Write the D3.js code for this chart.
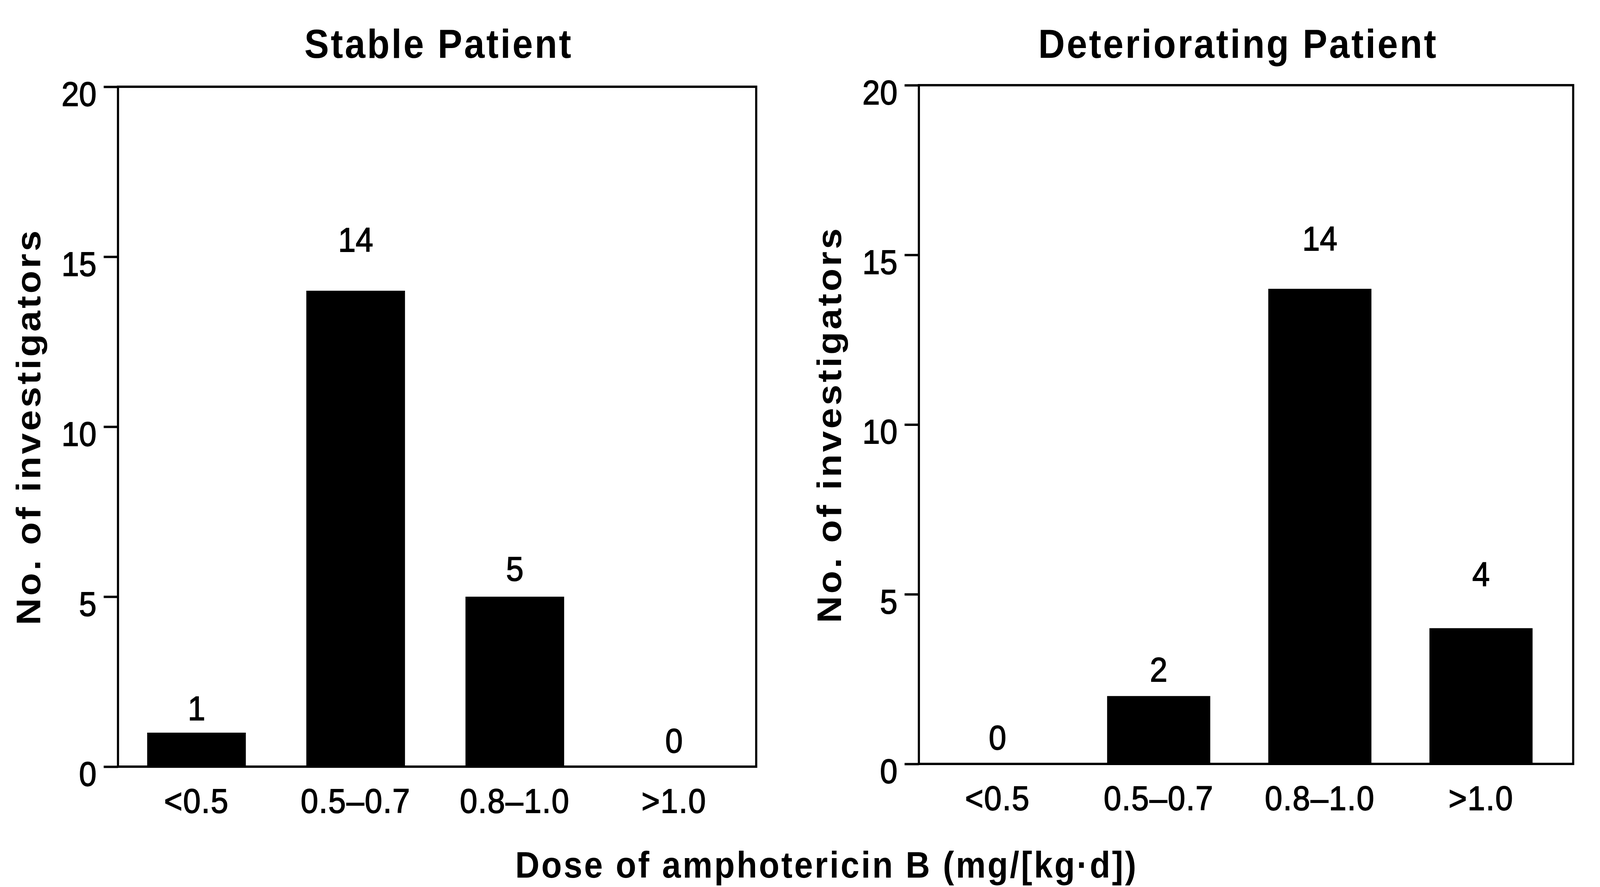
<!DOCTYPE html>
<html>
<head>
<meta charset="utf-8">
<script src="https://cdn.jsdelivr.net/npm/d3@7"></script>
<style>
  html, body { margin: 0; padding: 0; background: #fff; overflow: hidden; }
  #chart svg { display: block; }
  text { font-family: "Liberation Sans", Arial, sans-serif; fill: #000; }
</style>
</head>
<body>
<div id="chart"></div>
<script>
// data
const categories = ["<0.5", "0.5\u20130.7", "0.8\u20131.0", ">1.0"]
const stableCounts = [1, 14, 5, 0]
const deterioratingCounts = [0, 2, 14, 4]
const yTicks = [0, 5, 10, 15, 20]
const panelTitles = ["Stable Patient", "Deteriorating Patient"]
const yTitle = "No. of investigators"
const xTitle = "Dose of amphotericin B (mg/[kg\u00b7d])"

const width = 4475, height = 2270

// layout of the two panels (pixels)
const panels = [
  { x0: 330, x1: 2115, y0: 222, y1: 1962, align: 0.47, pi: 0.38, po: 0.195,
    titleX: 1227, labelGap: [32, 100, 41, 36], values: stableCounts, title: panelTitles[0] },
  { x0: 2570, x1: 4400, y0: 218, y1: 1955, align: 0.4, pi: 0.36, po: 0.21,
    titleX: 3463, labelGap: [37, 37, 98, 108], values: deterioratingCounts, title: panelTitles[1] }
]

// the drawing is laid out on a 4475x2270 grid and scaled to fit the window
const svg = d3.select("#chart")
  .append("svg")
    .attr("viewBox", `0 0 ${width} ${height}`)
    .attr("preserveAspectRatio", "none")
    .style("width", "100vw")
    .style("height", "100vh")

svg.append("rect")
  .attr("width", width)
  .attr("height", height)
  .attr("fill", "#fff")

panels.forEach(p => {
  const g = svg.append("g")

  const x = d3.scaleBand()
    .domain(categories)
    .range([p.x0, p.x1])
    .paddingInner(p.pi)
    .paddingOuter(p.po)
    .align(p.align)

  const y = d3.scaleLinear()
    .domain([0, 20])
    .range([p.y1, p.y0])

  const rows = categories.map((c, i) => ({ cat: c, v: p.values[i], gap: p.labelGap[i] }))

  // bars
  g.selectAll(".bar")
    .data(rows)
    .join("rect")
      .attr("class", "bar")
      .attr("x", d => x(d.cat))
      .attr("y", d => y(d.v))
      .attr("width", x.bandwidth())
      .attr("height", d => y(0) - y(d.v))
      .attr("fill", "#000")

  // value labels above bars
  g.selectAll(".val")
    .data(rows)
    .join("text")
      .attr("class", "val")
      .attr("x", d => x(d.cat) + x.bandwidth() / 2)
      .attr("y", d => y(d.v) - d.gap)
      .attr("text-anchor", "middle")
      .style("font-size", "88px")
      .style("stroke", "#000")
      .style("stroke-width", 2)
      .text(d => d.v)

  // frame
  g.append("rect")
    .attr("x", p.x0)
    .attr("y", p.y0)
    .attr("width", p.x1 - p.x0)
    .attr("height", p.y1 - p.y0)
    .attr("fill", "none")
    .attr("stroke", "#000")
    .attr("stroke-width", 6)

  // y axis
  const yAxis = g.append("g")
    .attr("transform", `translate(${p.x0},0)`)
    .call(d3.axisLeft(y).tickValues(yTicks).tickSize(40).tickPadding(20))
  yAxis.select(".domain").remove()
  yAxis.selectAll(".tick line").attr("stroke", "#000").attr("stroke-width", 6)
  yAxis.selectAll(".tick text")
    .attr("dy", "0.55em")
    .style("font-size", "88px")
    .style("font-family", "'Liberation Sans', Arial, sans-serif")
    .style("stroke", "#000")
    .style("stroke-width", 2)

  // x axis labels
  const xAxis = g.append("g")
    .attr("transform", `translate(0,${p.y1})`)
    .call(d3.axisBottom(x).tickSize(0).tickPadding(56))
  xAxis.select(".domain").remove()
  xAxis.selectAll(".tick text")
    .style("font-size", "88px")
    .style("letter-spacing", "2px")
    .style("font-family", "'Liberation Sans', Arial, sans-serif")
    .style("stroke", "#000")
    .style("stroke-width", 2)

  // panel title
  g.append("text")
    .attr("x", p.titleX)
    .attr("y", 148)
    .attr("text-anchor", "middle")
    .style("font-size", "103px")
    .style("font-weight", "bold")
    .style("letter-spacing", "5px")
    .text(p.title)

  // y axis title
  g.append("text")
    .attr("transform", `translate(${p.x0 - 218},${(p.y0 + p.y1) / 2}) rotate(-90)`)
    .attr("text-anchor", "middle")
    .style("font-size", "96px")
    .style("font-weight", "bold")
    .style("letter-spacing", "6px")
    .text(yTitle)
})

// shared x axis title
svg.append("text")
  .attr("x", 2312)
  .attr("y", 2246)
  .attr("text-anchor", "middle")
  .style("font-size", "94px")
  .style("font-weight", "bold")
  .style("letter-spacing", "5px")
  .text(xTitle)
</script>
</body>
</html>
